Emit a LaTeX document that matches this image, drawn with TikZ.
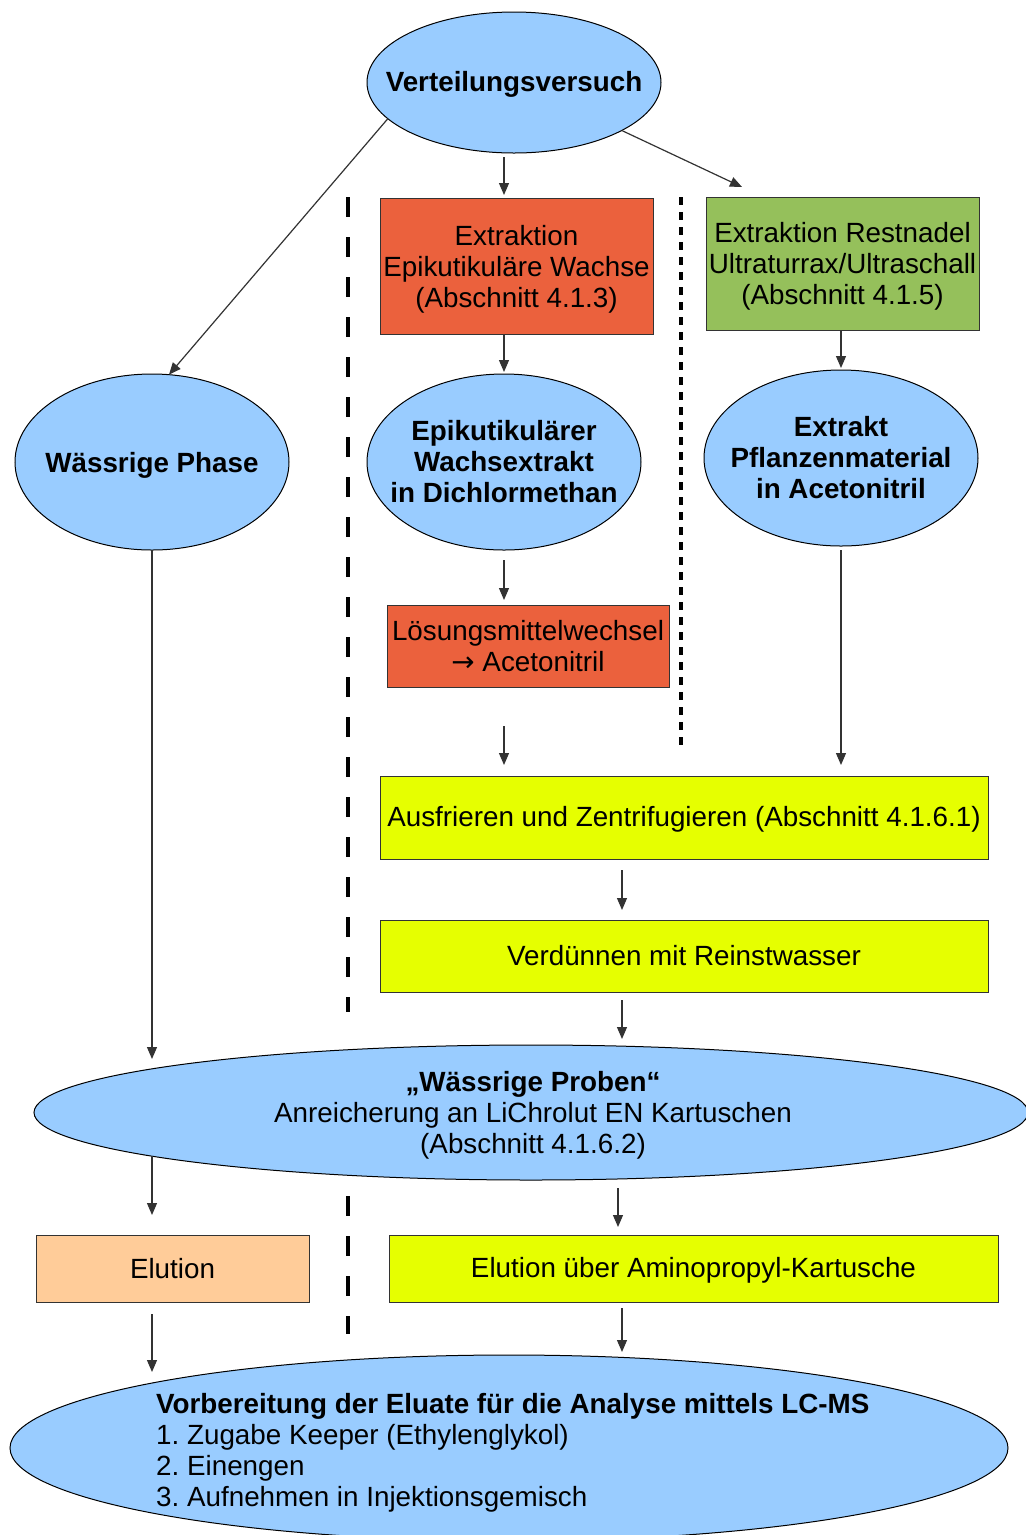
\documentclass[tikz,border=0pt]{standalone}
\usepackage{fontspec}
\setmainfont{Liberation Sans}
\newfontfamily\arrowfont{DejaVu Sans}
\usetikzlibrary{shapes.geometric,arrows.meta,calc}
\definecolor{cblue}{HTML}{99CCFF}
\definecolor{cred}{HTML}{EB613D}
\definecolor{cgreen}{HTML}{95C05B}
\definecolor{cyel}{HTML}{E6FF00}
\definecolor{cpeach}{HTML}{FFCC99}
\definecolor{cline}{HTML}{333333}
\tikzset{
  ell/.style={ellipse, draw=black, line width=1pt, fill=cblue, inner sep=0pt, outer sep=0pt},
  box/.style={rectangle, draw=black!80, line width=1pt, inner sep=0pt, outer sep=0pt},
  txt/.style={align=center, inner sep=0pt, font=\fontsize{27.8}{31}\selectfont},
  arr/.style={draw=cline, line width=1.2pt, -{Triangle[length=12pt,width=10pt]}},
  sep/.style={line width=4pt, dash pattern=on 20pt off 20pt},
  dots/.style={line width=4pt, dash pattern=on 8pt off 7pt},
}
\begin{document}
\frenchspacing
\begin{tikzpicture}[x=1pt,y=-1pt]
\useasboundingbox (0,0) rectangle (1026,1535);
\clip (0,0) rectangle (1026,1535);
\fill[white] (0,0) rectangle (1026,1535);

% separators
\draw[sep] (348,197) -- (348,1012);
\draw[sep] (348,1196) -- (348,1334);
\draw[dots] (681,197) -- (681,745);

% shapes
\node[ell, minimum width=294pt, minimum height=141pt] (v) at (514,82.5) {};
\node[txt, yshift=-2pt] (vt) at (v) {\bfseries Verteilungsversuch};

\node[box, fill=cred, minimum width=273pt, minimum height=136pt] (ext) at (516.5,266) {};
\node[txt, yshift=-3pt] (extt) at (ext) {Extraktion\\Epikutikuläre Wachse\\(Abschnitt 4.1.3)};
\node[box, fill=cgreen, minimum width=273pt, minimum height=133pt] (gr) at (842.5,263.5) {};
\node[txt, yshift=-3pt] (grt) at (gr) {Extraktion Restnadel\\Ultraturrax/Ultraschall\\(Abschnitt 4.1.5)};

\node[ell, minimum width=274pt, minimum height=176pt] (wp) at (152,462) {};
\node[txt, yshift=-3pt] (wpt) at (wp) {\bfseries Wässrige Phase};
\node[ell, minimum width=274pt, minimum height=176pt] (epi) at (504,462) {};
\node[txt, yshift=0pt] (epit) at (epi) {\bfseries Epikutikulärer\\\bfseries Wachsextrakt\\\bfseries in Dichlormethan};
\node[ell, minimum width=274pt, minimum height=176pt] (ex) at (841,458) {};
\node[txt, yshift=0pt] (ext2) at (ex) {\bfseries Extrakt\\\bfseries Pflanzenmaterial\\\bfseries in Acetonitril};

\node[box, fill=cred, minimum width=282pt, minimum height=82pt] (lm) at (528,646) {};
\node[txt] (lmt) at (lm) {Lösungsmittelwechsel\\{\arrowfont →} Acetonitril};
\node[box, fill=cyel, minimum width=608pt, minimum height=83pt] (au) at (684,817.5) {};
\node[txt, yshift=-2pt] (aut) at (au) {Ausfrieren und Zentrifugieren (Abschnitt 4.1.6.1)};
\node[box, fill=cyel, minimum width=608pt, minimum height=72pt] (vd) at (684,956) {};
\node[txt] (vdt) at (vd) {Verdünnen mit Reinstwasser};

\node[ell, minimum width=994pt, minimum height=135pt] (wpr) at (531,1112.5) {};
\node[txt, yshift=-3pt] (wprt) at (533,1112) {\bfseries „Wässrige Proben“\\Anreicherung an LiChrolut EN Kartuschen\\(Abschnitt 4.1.6.2)};

\node[box, fill=cpeach, minimum width=273pt, minimum height=67pt] (el) at (172.5,1268.5) {};
\node[txt] (elt) at (el) {Elution};
\node[box, fill=cyel, minimum width=609pt, minimum height=67pt] (ea) at (693.5,1268.5) {};
\node[txt, yshift=-2pt] (eat) at (ea) {Elution über Aminopropyl-Kartusche};

\node[ell, minimum width=998pt, minimum height=186pt] (bot) at (509,1448) {};
\node[txt, align=left, anchor=west, yshift=-3pt] (bott) at (156,1449.5)
  {\bfseries Vorbereitung der Eluate für die Analyse mittels LC-MS\\
   1. Zugabe Keeper (Ethylenglykol)\\
   2. Einengen\\
   3. Aufnehmen in Injektionsgemisch};

% connectors
\draw[arr] (v.196) -- (wp.79);
\draw[arr, shorten <=4pt, shorten >=3pt] (v.south -| epi.north) -- (ext.north -| epi.north);
\draw[arr] (v.336) -- ($(gr.north west)+(36,-10)$);
\draw[arr, shorten >=2pt] (ext.south -| epi.north) -- (epi.north);
\draw[arr, shorten >=2pt] (gr.south -| ex.north) -- (ex.north);
\draw[arr, shorten <=10pt, shorten >=5pt] (epi.south) -- (epi.south |- lm.north);
\draw[arr, shorten <=39pt, shorten >=11pt] (lm.south -| epi.south) -- (au.north -| epi.south);
\draw[arr, shorten <=4pt, shorten >=11pt] (ex.south) -- (ex.south |- au.north);
\draw[arr] (wp.south) -- ($(wpr.north -| wp.south)+(0,14)$);
\draw[arr] ($(au.south)+(-62,11)$) -- ($(vd.north)+(-62,-10)$);
\draw[arr] ($(vd.south)+(-62,8)$) -- ($(wpr.north -| vd.south)+(-62,-6)$);
\draw[arr] ($(wpr.south -| wp.south)+(0,-24)$) -- ($(el.north -| wp.south)+(0,-20)$);
\draw[arr] ($(wpr.south)+(87,8)$) -- ($(ea.north)+(-75.5,-8)$);
\draw[arr] ($(el.south -| wp.south)+(0,12)$) -- ($(bot.north -| wp.south)+(0,17)$);
\draw[arr] ($(ea.south)+(-71.5,6)$) -- ($(bot.north)+(113,-3)$);
\end{tikzpicture}
\end{document}
